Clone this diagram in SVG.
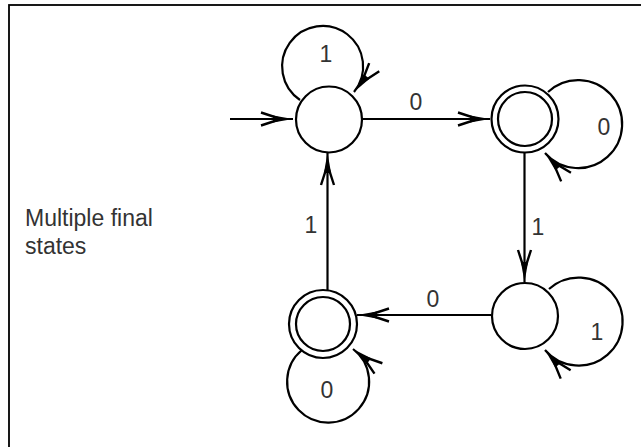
<svg xmlns="http://www.w3.org/2000/svg" width="641" height="447" viewBox="0 0 641 447">
  <style>
    .state { fill: #ffffff; stroke: #000000; stroke-width: 2.2; }
    .ring { fill: none; stroke: #000000; stroke-width: 2.2; }
    .edge { fill: none; stroke: #000000; stroke-width: 2.2; marker-end: url(#arrow); }
    .lbl { font-family: "Liberation Sans", Arial, sans-serif; font-size: 23px; fill: #333333; text-anchor: middle; }
    .note { font-family: "Liberation Sans", Arial, sans-serif; font-size: 23px; fill: #333333; }
  </style>
  <defs>
    <!-- double-barbed arrowhead with a filled dart, tip at the path end -->
    <marker id="arrow" markerUnits="userSpaceOnUse" markerWidth="40" markerHeight="20" viewBox="-36 -10 40 20" refX="0" refY="0" orient="auto" overflow="visible">
      <path d="M-32,-6.5 L-12,0 L-32,6.5" fill="none" stroke="#000" stroke-width="2.4"/>
      <path d="M-20,-3.6 L0,0 L-20,3.6 Z" fill="#000"/>
    </marker>
  </defs>

  <rect width="641" height="447" fill="#ffffff"/>
  <!-- frame (right and bottom sides run past the canvas) -->
  <rect x="9" y="5" width="700" height="500" fill="none" stroke="#000" stroke-width="1.8"/>

  <text class="note" x="25" y="226">Multiple final</text>
  <text class="note" x="25" y="254">states</text>

  <g id="connectors">
    <!-- start arrow -->
    <path class="edge" d="M230,119 L293,119"/>
    <!-- q0 -> q1 on 0 -->
    <path class="edge" d="M362,119 L490,119"/>
    <!-- q1 -> q2 on 1 -->
    <path class="edge" d="M524.5,152 L524.5,282"/>
    <!-- q2 -> q3 on 0 -->
    <path class="edge" d="M491,315 L357,315"/>
    <!-- q3 -> q0 on 1 -->
    <path class="edge" d="M327.5,290 L327.5,153"/>
    <!-- self loops -->
    <path class="edge" d="M300,100 A40.5 40.5 0 1 1 354,92"/>
    <path class="edge" d="M548,92 A44 44 0 1 1 545,153"/>
    <path class="edge" d="M549,289 A44 44 0 1 1 545,350"/>
    <path class="edge" d="M302,350 A41 41 0 1 0 353,349"/>

    <text class="lbl" x="326" y="62">1</text>
    <text class="lbl" x="416" y="110">0</text>
    <text class="lbl" x="604" y="135">0</text>
    <text class="lbl" x="538" y="235">1</text>
    <text class="lbl" x="597" y="340">1</text>
    <text class="lbl" x="433" y="307">0</text>
    <text class="lbl" x="327" y="398">0</text>
    <text class="lbl" x="311" y="233">1</text>
  </g>

  <g id="q0">
    <circle class="state" cx="329" cy="119.5" r="33"/>
  </g>
  <g id="q1">
    <circle class="state" cx="525" cy="119" r="33.5"/>
    <circle class="ring" cx="525" cy="119" r="27"/>
  </g>
  <g id="q2">
    <circle class="state" cx="525" cy="316" r="33"/>
  </g>
  <g id="q3">
    <circle class="state" cx="323" cy="324" r="34"/>
    <circle class="ring" cx="323" cy="324" r="27"/>
  </g>
</svg>
